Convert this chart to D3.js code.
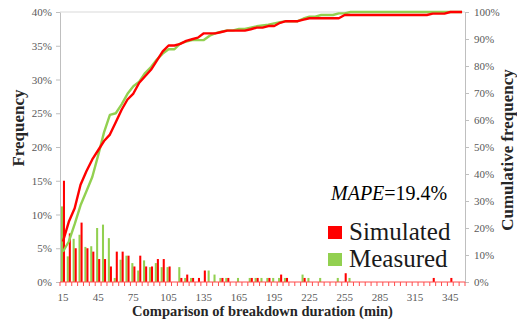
<!DOCTYPE html>
<html>
<head>
<meta charset="utf-8">
<script src="https://d3js.org/d3.v7.min.js"></script>
<style>
body{margin:0;background:#fff;}
svg{display:block;font-family:"Liberation Serif","Times New Roman",serif;}
</style>
</head>
<body>
<div id="chart"></div>
<script>
// breakdown duration categories (min)
var durations=[15,20,25,30,35,40,45,50,55,60,65,70,75,80,85,90,95,100,105,110,
	115,120,125,130,135,140,145,150,155,160,165,170,175,180,185,190,195,200,205,210,
	215,220,225,230,235,240,245,250,255,260,265,270,275,280,285,290,295,300,305,310,
	315,320,325,330,335,340,345,350,355];
var xTickLabels=[15,45,75,105,135,165,195,225,255,285,315,345];
var freqTicks=[0,5,10,15,20,25,30,35,40];
var cumTicks=[0,10,20,30,40,50,60,70,80,90,100];
var seriesNames=["Simulated","Measured"];

// frequency (%) per category
var simulated=[15.0,7.2,5.0,8.8,5.0,4.5,3.4,3.4,2.3,4.5,4.5,3.9,2.3,3.9,2.3,2.3,3.4,3.4,2.3,0,
	0.6,1.1,0.6,0.6,1.7,0,0,0.6,0.6,0,0,0,0.6,0.6,0,0.6,0,1.1,0.6,0,
	0,0.6,0,0,0,0,0,0,1.3,0,0,0,0,0,0,0,0,0,0,0,
	0,0,0,0.6,0,0,0.6,0,0];
var measured=[11.2,3.8,6.4,7.0,5.2,5.3,8.0,8.5,6.5,0.6,3.3,3.9,2.8,1.7,3.2,2.2,2.8,2.2,2.2,0,
	2.2,0.6,0.6,0,0,1.7,1.1,0.6,0.6,0,0.6,0,0.6,0.6,0.6,0.6,0.6,0.6,0.6,0,
	0,1.1,0.6,0,0.6,0,0,0.6,0,0.6,0,0,0,0,0,0,0,0,0,0,
	0,0,0,0,0,0,0,0,0];

// cumulative frequency (%) per category
var cumSimulated=[15.0,22.3,27.3,36.0,41.0,45.4,48.8,52.2,54.6,59.2,63.8,67.6,69.8,73.8,76.2,78.6,82.0,85.4,87.6,87.6,
	88.2,89.3,89.9,90.5,92.1,92.1,92.1,92.6,93.1,93.1,93.1,93.1,93.6,94.2,94.2,94.8,94.8,96.0,96.6,96.6,
	96.6,97.2,97.7,97.7,97.7,97.7,97.7,97.7,98.9,98.9,98.9,98.9,98.9,98.9,98.9,98.9,98.9,98.9,98.9,98.9,
	98.9,98.9,98.9,99.4,99.4,99.4,100,100,100];
var cumMeasured=[11.2,15.0,21.4,28.4,33.6,38.9,46.9,55.4,61.9,62.5,65.8,69.7,72.5,74.2,77.4,79.6,82.4,84.6,86.2,86.2,
	88.4,89.0,89.6,89.6,89.6,91.2,92.2,92.7,93.2,93.2,93.7,93.7,94.2,94.7,95.0,95.3,95.8,96.2,96.6,96.6,
	96.6,97.6,98.3,98.3,98.9,98.9,98.9,99.5,99.5,100,100,100,100,100,100,100,100,100,100,100,
	100,100,100,100,100,100,100,100,100];

var width=517, height=327;
var margin={top:12, right:52, bottom:45, left:60};
var red="#ff0000", green="#92d050", axisGray="#bfbfbf", labelGray="#595959";
var serif="Liberation Serif, Times New Roman, serif";

var svg=d3.select("#chart").append("svg")
	.attr("width",width)
	.attr("height",height);

var x=d3.scaleBand()
	.domain(durations)
	.range([margin.left,width-margin.right])
	.paddingInner(0.3)
	.paddingOuter(0.15);
var sub=d3.scaleBand()
	.domain(["measured","simulated"])
	.range([0,x.bandwidth()]);
var yL=d3.scaleLinear().domain([0,40]).range([height-margin.bottom,margin.top]);
var yR=d3.scaleLinear().domain([0,100]).range([height-margin.bottom,margin.top]);

var rows=durations.map(function(d,i){
	return {dur:d, simulated:simulated[i], measured:measured[i], cs:cumSimulated[i], cm:cumMeasured[i]};
});

// top frame line
svg.append("line")
	.attr("x1",margin.left).attr("x2",width-margin.right)
	.attr("y1",margin.top).attr("y2",margin.top)
	.attr("stroke","#d9d9d9");

// bars
var groups=svg.append("g").selectAll("g")
	.data(rows)
	.enter().append("g")
		.attr("transform",function(d){return "translate("+x(d.dur)+",0)";});
groups.selectAll("rect")
	.data(function(d){return [{k:"measured",v:d.measured},{k:"simulated",v:d.simulated}].filter(function(e){return e.v>0;});})
	.enter().append("rect")
		.attr("x",function(e){return sub(e.k);})
		.attr("width",sub.bandwidth())
		.attr("y",function(e){return yL(e.v);})
		.attr("height",function(e){return yL(0)-yL(e.v);})
		.attr("fill",function(e){return e.k=="simulated"?red:green;});

// cumulative lines
var lineM=d3.line().x(function(d){return x(d.dur)+x.bandwidth()/2;}).y(function(d){return yR(d.cm);});
var lineS=d3.line().x(function(d){return x(d.dur)+x.bandwidth()/2;}).y(function(d){return yR(d.cs);});
svg.append("path").datum(rows)
	.attr("d",lineM).attr("fill","none").attr("stroke",green).attr("stroke-width",2.4).attr("stroke-linejoin","round");
svg.append("path").datum(rows)
	.attr("d",lineS).attr("fill","none").attr("stroke",red).attr("stroke-width",2.4).attr("stroke-linejoin","round");

// left axis
var gL=svg.append("g")
	.attr("transform","translate("+margin.left+",0)")
	.call(d3.axisLeft(yL).tickValues(freqTicks).tickSize(4).tickSizeOuter(0).tickPadding(4)
		.tickFormat(function(d){return d+"%";}));
// right axis
var gR=svg.append("g")
	.attr("transform","translate("+(width-margin.right)+",0)")
	.call(d3.axisRight(yR).tickValues(cumTicks).tickSize(4).tickSizeOuter(0).tickPadding(5)
		.tickFormat(function(d){return d+"%";}));
[gL,gR].forEach(function(g){
	g.attr("font-family",serif).attr("font-size",11);
	g.select(".domain").attr("stroke",axisGray);
	g.selectAll(".tick line").attr("stroke",axisGray);
	g.selectAll(".tick text").attr("fill",labelGray);
});

// bottom axis: red line, ticks on category boundaries
var base=height-margin.bottom;
var gap=(x.step()-x.bandwidth())/2;
svg.append("line")
	.attr("x1",margin.left).attr("x2",width-margin.right)
	.attr("y1",base).attr("y2",base)
	.attr("stroke","#ff4d4d");
svg.append("g").selectAll("line")
	.data(durations.concat(["end"]))
	.enter().append("line")
		.attr("x1",function(d){return d=="end"?width-margin.right:x(d)-gap;})
		.attr("x2",function(d){return d=="end"?width-margin.right:x(d)-gap;})
		.attr("y1",base).attr("y2",base+4)
		.attr("stroke","#ff4d4d");
var gB=svg.append("g")
	.attr("transform","translate(0,"+base+")")
	.call(d3.axisBottom(x).tickValues(xTickLabels).tickSize(0).tickPadding(11));
gB.attr("font-family",serif).attr("font-size",11);
gB.select(".domain").remove();
gB.selectAll(".tick text").attr("fill",labelGray);

// axis titles
svg.append("text")
	.attr("x",(margin.left+width-margin.right)/2).attr("y",316)
	.attr("text-anchor","middle")
	.style("font-size","14.5px").style("font-weight","bold").attr("fill","#262626")
	.text("Comparison of breakdown duration (min)");
svg.append("text")
	.attr("transform","translate(24,128) rotate(-90)")
	.attr("text-anchor","middle")
	.style("font-size","17px").style("font-weight","bold").attr("fill","#262626")
	.text("Frequency");
svg.append("text")
	.attr("transform","translate(513,150) rotate(-90)")
	.attr("text-anchor","middle")
	.style("font-size","17px").style("font-weight","bold").attr("fill","#262626")
	.text("Cumulative frequency");

// MAPE annotation
var mape=svg.append("text").attr("x",331).attr("y",200).style("font-size","20px").attr("fill","#000");
mape.append("tspan").style("font-style","italic").text("MAPE");
mape.append("tspan").text("=19.4%");

// legend
var legend=svg.append("g").selectAll("g")
	.data(seriesNames)
	.enter().append("g")
		.attr("transform",function(d,i){return "translate(328,"+(226+i*27)+")";});
legend.append("rect")
	.attr("width",14).attr("height",13)
	.attr("fill",function(d,i){return i==0?red:green;});
legend.append("text")
	.attr("x",21).attr("y",14)
	.style("font-size","25px").attr("fill","#1a1a1a")
	.text(function(d){return d;});
</script>
</body>
</html>
